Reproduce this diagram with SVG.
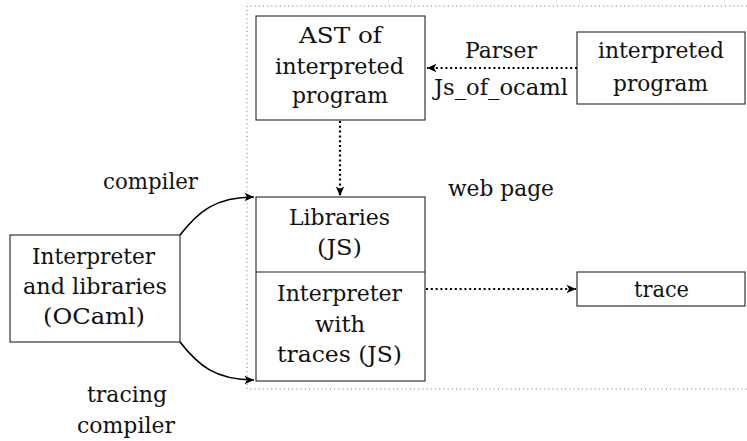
<svg xmlns="http://www.w3.org/2000/svg" width="747" height="441" viewBox="0 0 747 441">
<defs>
<style>
.box{fill:none;stroke:#222;stroke-width:1.1}
.t{font-family:'DejaVu Serif','Liberation Serif',serif;font-size:22px;fill:#111}
.frame{fill:none;stroke:#666;stroke-width:0.9;stroke-dasharray:1 3.2}
.dot{fill:none;stroke:#000;stroke-width:2.2;stroke-dasharray:2 2.8}
.solid{fill:none;stroke:#000;stroke-width:1.7}
</style>
<marker id="ah" markerWidth="12" markerHeight="12" refX="10" refY="6" orient="auto" markerUnits="userSpaceOnUse">
<path d="M0.5,1.8 L10,6 L0.5,10.2 L3,6 Z" fill="#000"/>
</marker>
</defs>
<rect width="747" height="441" fill="#fff"/>
<g id="webpage-frame">
<path class="frame" d="M747,6 H247 V389 H747"/>
<text class="t" x="448" y="196" textLength="106" lengthAdjust="spacingAndGlyphs">web page</text>
</g>
<g id="ast">
<rect class="box" x="256" y="16" width="169" height="104"/>
<text class="t" x="299" y="43" textLength="83" lengthAdjust="spacingAndGlyphs">AST of</text>
<text class="t" x="275" y="74" textLength="129" lengthAdjust="spacingAndGlyphs">interpreted</text>
<text class="t" x="292" y="103" textLength="96" lengthAdjust="spacingAndGlyphs">program</text>
</g>
<g id="interpreted-program">
<rect class="box" x="577" y="32" width="168" height="72"/>
<text class="t" x="598" y="58" textLength="126" lengthAdjust="spacingAndGlyphs">interpreted</text>
<text class="t" x="613" y="91" textLength="95" lengthAdjust="spacingAndGlyphs">program</text>
</g>
<g id="interpreter-ocaml">
<rect class="box" x="10" y="235" width="170" height="107"/>
<text class="t" x="32" y="264" textLength="123" lengthAdjust="spacingAndGlyphs">Interpreter</text>
<text class="t" x="23" y="294" textLength="144" lengthAdjust="spacingAndGlyphs">and libraries</text>
<text class="t" x="43" y="324" textLength="102" lengthAdjust="spacingAndGlyphs">(OCaml)</text>
</g>
<g id="js">
<rect class="box" x="256" y="197" width="169" height="184"/>
<line class="box" x1="256" y1="272" x2="425" y2="272"/>
<text class="t" x="289" y="225" textLength="101" lengthAdjust="spacingAndGlyphs">Libraries</text>
<text class="t" x="317" y="255" textLength="45" lengthAdjust="spacingAndGlyphs">(JS)</text>
<text class="t" x="277" y="301" textLength="125" lengthAdjust="spacingAndGlyphs">Interpreter</text>
<text class="t" x="315" y="332" textLength="50" lengthAdjust="spacingAndGlyphs">with</text>
<text class="t" x="277" y="362" textLength="125" lengthAdjust="spacingAndGlyphs">traces (JS)</text>
</g>
<g id="trace">
<rect class="box" x="577" y="272" width="168" height="34"/>
<text class="t" x="634" y="297" textLength="55" lengthAdjust="spacingAndGlyphs">trace</text>
</g>
<g id="connectors">
<line class="dot" x1="577" y1="68" x2="427" y2="68" marker-end="url(#ah)"/>
<text class="t" x="465" y="58" textLength="72" lengthAdjust="spacingAndGlyphs">Parser</text>
<text class="t" x="434" y="95" textLength="134" lengthAdjust="spacingAndGlyphs">Js_of_ocaml</text>
<line class="dot" x1="340" y1="121" x2="340" y2="196" marker-end="url(#ah)"/>
<line class="dot" x1="426" y1="289" x2="576" y2="289" marker-end="url(#ah)"/>
<path class="solid" d="M180,235 C198,212 215,197 254,197" marker-end="url(#ah)"/>
<text class="t" x="103" y="189" textLength="95" lengthAdjust="spacingAndGlyphs">compiler</text>
<path class="solid" d="M180,342 C198,365 215,380 254,380" marker-end="url(#ah)"/>
<text class="t" x="87" y="402" textLength="80" lengthAdjust="spacingAndGlyphs">tracing</text>
<text class="t" x="77" y="433" textLength="98" lengthAdjust="spacingAndGlyphs">compiler</text>
</g>
</svg>
